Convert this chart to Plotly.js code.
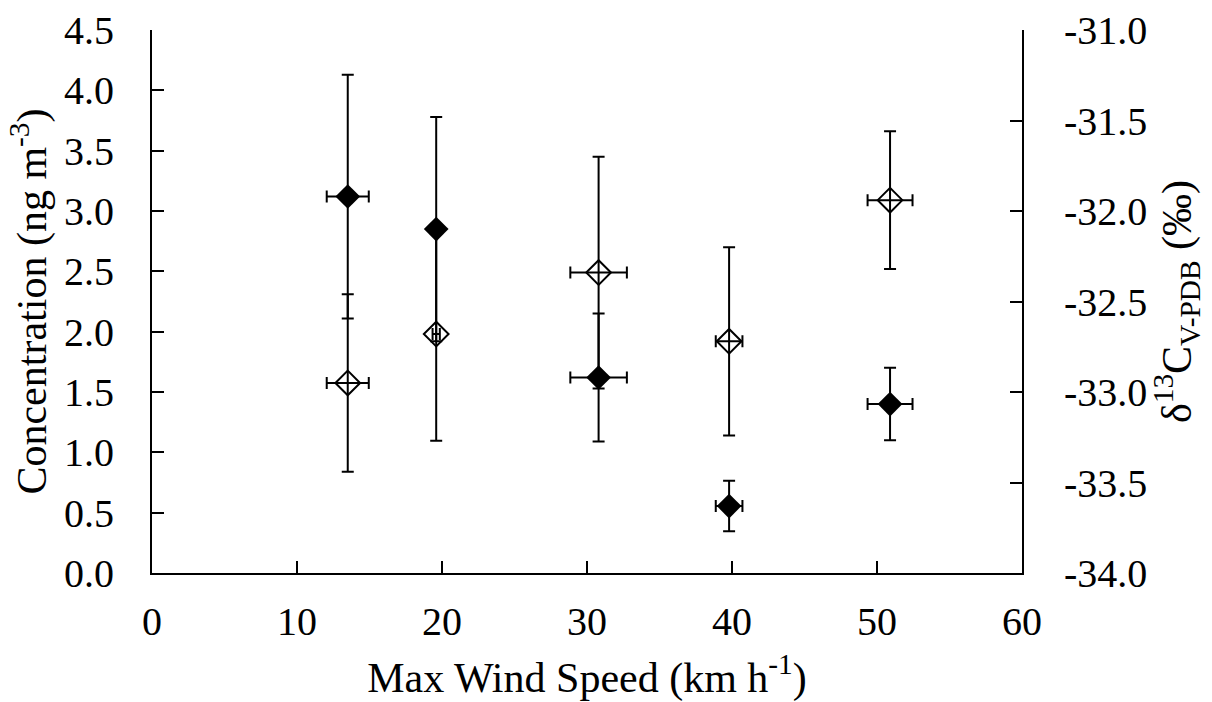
<!DOCTYPE html>
<html>
<head>
<meta charset="utf-8">
<script src="https://cdn.plot.ly/plotly-3.0.1.min.js"></script>
<style>html,body{margin:0;padding:0;background:#fff;}</style>
</head>
<body>
<div id="chart" style="width:1212px;height:702px;"></div>
<script>
// Max wind speed (km h-1) for each sampling group
const windSpeed = [13.5, 19.6, 30.8, 39.8, 50.9];
const windSpeedErr = [1.45, 0.25, 1.95, 0.92, 1.55];

// Concentration (ng m-3) - filled diamonds, left axis
const concentration = [3.12, 2.85, 1.62, 0.555, 1.40];
const concentrationErr = [1.01, 0.93, 0.53, 0.21, 0.30];

// δ13C V-PDB (‰) - open diamonds, right axis
const delta13C = [-32.95, -32.68, -32.34, -32.72, -31.94];
const delta13CErr = [0.49, 0.59, 0.64, 0.52, 0.38];

// Tick labels
const yLeftTicks = [0, 0.5, 1, 1.5, 2, 2.5, 3, 3.5, 4, 4.5];
const yLeftLabels = ["0.0","0.5","1.0","1.5","2.0","2.5","3.0","3.5","4.0","4.5"];
const yRightTicks = [-34, -33.5, -33, -32.5, -32, -31.5, -31];
const yRightLabels = ["-34.0","-33.5","-33.0","-32.5","-32.0","-31.5","-31.0"];
const xTicks = [0, 10, 20, 30, 40, 50, 60];

const FONT = "Liberation Serif";
const FS = 40;
const TFS = 42;

const errStyle = {thickness: 2, width: 6, color: "#000"};

const traces = [
  {
    x: windSpeed, y: delta13C, yaxis: "y2", type: "scatter", mode: "markers",
    name: "δ13C",
    marker: {symbol: "diamond-open", size: 19, color: "#000", line: {width: 2, color: "#000"}},
    error_y: Object.assign({type: "data", array: delta13CErr, visible: true}, errStyle),
    error_x: Object.assign({type: "data", array: windSpeedErr, visible: true}, errStyle)
  },
  {
    x: windSpeed, y: concentration, type: "scatter", mode: "markers",
    name: "Concentration",
    marker: {symbol: "diamond", size: 19, color: "#000", line: {width: 0}},
    error_y: Object.assign({type: "data", array: concentrationErr, visible: true}, errStyle),
    error_x: Object.assign({type: "data", array: windSpeedErr, visible: true}, errStyle)
  }
];

const layout = {
  width: 1212, height: 702,
  margin: {l: 152, r: 190, t: 30, b: 129},
  paper_bgcolor: "#fff", plot_bgcolor: "#fff",
  showlegend: false,
  font: {family: FONT, size: FS, color: "#000"},
  xaxis: {
    range: [0, 60], tickvals: xTicks, ticktext: xTicks.map(String),
    ticks: "inside", ticklen: 12, tickwidth: 2, tickcolor: "#000",
    showline: true, linewidth: 2, linecolor: "#000",
    showgrid: false, zeroline: false,
    ticklabelstandoff: 12,
    tickfont: {family: FONT, size: FS, color: "#000"},
    title: {text: "Max Wind Speed (km h<sup>-1</sup>)", font: {family: FONT, size: TFS, color: "#000"}, standoff: 20}
  },
  yaxis: {
    range: [0, 4.5], tickvals: yLeftTicks, ticktext: yLeftLabels,
    ticks: "inside", ticklen: 12, tickwidth: 2, tickcolor: "#000",
    showline: true, linewidth: 2, linecolor: "#000",
    showgrid: false, zeroline: false,
    ticklabelstandoff: 28,
    tickfont: {family: FONT, size: FS, color: "#000"},
    title: {text: "Concentration (ng m<sup>-3</sup>)", font: {family: FONT, size: TFS, color: "#000"}, standoff: 4}
  },
  yaxis2: {
    overlaying: "y", side: "right",
    range: [-34, -31], tickvals: yRightTicks, ticktext: yRightLabels,
    ticks: "inside", ticklen: 12, tickwidth: 2, tickcolor: "#000",
    showline: true, linewidth: 2, linecolor: "#000",
    showgrid: false, zeroline: false,
    ticklabelstandoff: 32,
    tickfont: {family: FONT, size: FS, color: "#000"},
    title: {text: "δ<sup>13</sup>C<sub>V-PDB</sub> (‰)", font: {family: FONT, size: TFS, color: "#000"}, standoff: 6}
  }
};

Plotly.newPlot("chart", traces, layout, {displayModeBar: false, staticPlot: true});
</script>
</body>
</html>
